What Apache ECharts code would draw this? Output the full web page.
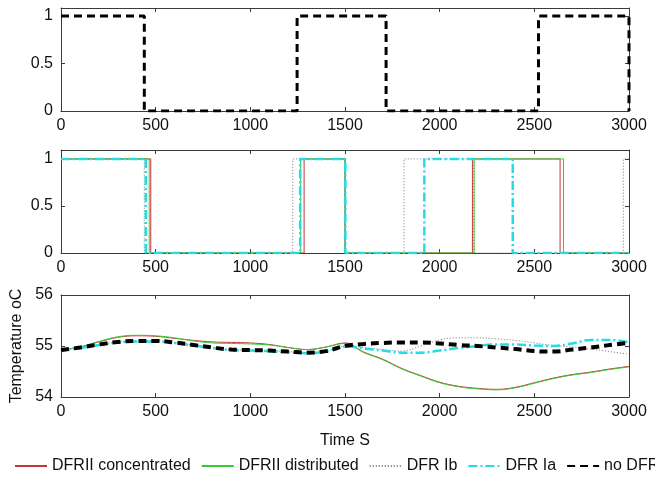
<!DOCTYPE html>
<html>
<head>
<meta charset="utf-8">
<script src="https://cdn.jsdelivr.net/npm/echarts@6/dist/echarts.min.js"></script>
<style>html,body{margin:0;padding:0;background:#fff;}#c{width:655px;height:480px;}</style>
</head>
<body>
<div id="c"></div>
<script>
// ---- Top panel: control signal (no DFR) ----
var topTimes  = [0, 440, 1247, 1717, 2522, 3000];
var topStates = [1, 0, 1, 0, 1, 0];

// ---- Middle panel: switching states ----
var redTimes   = [0, 474, 1284, 1500, 2173, 2636, 3000];
var redStates  = [1, 0, 1, 0, 1, 0, 0];
var greenTimes = [0, 466, 1266, 1500, 2182, 2654, 3000];
var greenStates= [1, 0, 1, 0, 1, 0, 0];
var dotTimes   = [0, 440, 1224, 1500, 1812, 2180, 2970, 3000];
var dotStates  = [1, 0, 1, 0, 1, 0, 1, 1];
var cyanTimes  = [0, 448, 1263, 1502, 1919, 2386, 3000];
var cyanStates = [1, 0, 1, 0, 1, 0, 0];

// ---- Bottom panel: temperature ----
var tTemp = [0,100,200,300,400,500,600,700,800,900,1000,1100,1200,1300,1400,1500,1600,1700,1800,1900,2000,2100,2200,2300,2400,2500,2600,2700,2800,2900,3000];
var tempNoDFR = [54.92,54.97,55.03,55.08,55.10,55.10,55.07,55.02,54.97,54.93,54.92,54.91,54.89,54.87,54.90,55.00,55.04,55.06,55.07,55.07,55.05,55.02,55.00,54.97,54.94,54.90,54.89,54.93,54.97,55.02,55.06];
var tempConc  = [54.92,54.98,55.08,55.17,55.20,55.19,55.15,55.11,55.08,55.07,55.06,55.03,54.97,54.93,54.98,55.06,54.88,54.74,54.56,54.42,54.29,54.21,54.17,54.15,54.19,54.28,54.37,54.44,54.49,54.55,54.60];
var tempDist  = [54.92,54.98,55.09,55.18,55.21,55.20,55.16,55.10,55.06,55.05,55.04,55.02,54.97,54.93,54.98,55.05,54.87,54.73,54.55,54.41,54.28,54.20,54.16,54.14,54.18,54.27,54.36,54.43,54.48,54.54,54.59];
var tempIa    = [54.91,54.96,55.02,55.07,55.09,55.09,55.06,55.01,54.96,54.92,54.91,54.90,54.88,54.86,54.89,54.99,54.95,54.91,54.87,54.87,54.91,54.96,55.00,55.03,55.03,55.01,55.00,55.05,55.12,55.12,55.07];
var tempIb    = [54.92,54.97,55.03,55.08,55.10,55.10,55.07,55.02,54.97,54.93,54.92,54.91,54.89,54.87,54.90,55.00,54.97,54.93,54.90,55.00,55.12,55.16,55.16,55.14,55.11,55.06,55.01,54.98,54.94,54.89,54.84];

var legendNames = ['DFRII concentrated', 'DFRII distributed', 'DFR Ib', 'DFR Ia', 'no DFR'];

function pairs(xs, ys) { return xs.map(function (x, i) { return [x, ys[i]]; }); }

var FONT = "'Liberation Sans', Arial, sans-serif";
var frame = '#3a3a3a';

var grids = [
  {left: 61, right: 26, top: 8, height: 103},
  {left: 61, right: 26, top: 150, height: 103},
  {left: 61, right: 26, top: 295, height: 102}
];

var xAxes = [], yAxes = [];
function addAxes(gi, ymin, ymax, yint, yfmt, extra) {
  [['bottom', true], ['top', false]].forEach(function (p) {
    var ax = {
      type: 'value', gridIndex: gi, position: p[0], min: 0, max: 3000, interval: 500,
      axisLine: {show: true, onZero: false, lineStyle: {color: frame, width: 1}},
      axisTick: {show: true, inside: true, length: 4, lineStyle: {color: frame}},
      splitLine: {show: false},
      axisLabel: {show: p[1], color: '#111', fontSize: 16, fontFamily: FONT, margin: 7,
                  formatter: function (v) { return String(v); }}
    };
    if (p[1] && extra && extra.xname) {
      ax.name = extra.xname; ax.nameLocation = 'middle'; ax.nameGap = 36;
      ax.nameTextStyle = {color: '#111', fontSize: 16, fontFamily: FONT};
    }
    xAxes.push(ax);
  });
  [['left', true], ['right', false]].forEach(function (p) {
    var ay = {
      type: 'value', gridIndex: gi, position: p[0], min: ymin, max: ymax, interval: yint,
      axisLine: {show: true, onZero: false, lineStyle: {color: frame, width: 1}},
      axisTick: {show: true, inside: true, length: 4, lineStyle: {color: frame}},
      splitLine: {show: false},
      axisLabel: {show: p[1], color: '#111', fontSize: 16, fontFamily: FONT, margin: 8, formatter: yfmt}
    };
    if (p[1] && extra && extra.yname) {
      ay.name = extra.yname; ay.nameLocation = 'middle'; ay.nameGap = 36;
      ay.nameTextStyle = {color: '#111', fontSize: 16, fontFamily: FONT};
    }
    yAxes.push(ay);
  });
}
var binFmt = function (v) { return (v === 0 || v === 0.5 || v === 1) ? String(v) : ''; };
addAxes(0, 0, 1.085, 0.5, binFmt);
addAxes(1, 0, 1.095, 0.5, binFmt);
addAxes(2, 54, 56, 1, function (v) { return String(v); }, {xname: 'Time S', yname: 'Temperature oC'});

var styles = {
  'DFRII concentrated': {color: '#cc3333', width: 1, type: 'solid'},
  'DFRII distributed': {color: '#33cc33', width: 1, type: 'solid'},
  'DFR Ib': {color: '#777777', width: 1, type: [1, 2]},
  'DFR Ia': {color: '#22dde6', width: 2.5, type: [9, 3, 2, 3]},
  'no DFR': {color: '#000000', width: 3.5, type: [8, 5]}
};

function lineSeries(name, gi, data, step, smooth) {
  var s = styles[name];
  var o = {
    name: name, type: 'line', xAxisIndex: gi * 2, yAxisIndex: gi * 2,
    data: data, symbol: 'none', showSymbol: false, animation: false,
    itemStyle: {color: s.color},
    lineStyle: {color: s.color, width: s.width, type: s.type}
  };
  if (step) o.step = 'end';
  if (smooth) o.smooth = 0.4;
  return o;
}

var series = [];
// top
var topS = lineSeries('no DFR', 0, pairs(topTimes, topStates), true, false);
topS.lineStyle = {color: '#000', width: 3, type: [8, 5]};
series.push(topS);
// middle
series.push(lineSeries('DFRII concentrated', 1, pairs(redTimes, redStates), true));
series.push(lineSeries('DFRII distributed', 1, pairs(greenTimes, greenStates), true));
series.push(lineSeries('DFR Ib', 1, pairs(dotTimes, dotStates), true));
series.push(lineSeries('DFR Ia', 1, pairs(cyanTimes, cyanStates), true));
// bottom
series.push(lineSeries('DFRII concentrated', 2, pairs(tTemp, tempConc), false, true));
series.push(lineSeries('DFRII distributed', 2, pairs(tTemp, tempDist), false, true));
series.push(lineSeries('DFR Ib', 2, pairs(tTemp, tempIb), false, true));
series.push(lineSeries('DFR Ia', 2, pairs(tTemp, tempIa), false, true));
var nd = lineSeries('no DFR', 2, pairs(tTemp, tempNoDFR), false, true);
nd.lineStyle.width = 4;
series.push(nd);

var chart = echarts.init(document.getElementById('c'), null, {renderer: 'canvas'});
chart.setOption({
  backgroundColor: '#ffffff',
  animation: false,
  grid: grids,
  xAxis: xAxes,
  yAxis: yAxes,
  legend: {
    data: legendNames, left: 14, top: 458, width: 1200, orient: 'horizontal',
    itemWidth: 32, itemHeight: 10, itemGap: 10, padding: 0,
    itemStyle: {opacity: 0},
    textStyle: {color: '#111', fontSize: 16, fontFamily: FONT}
  },
  series: series
});
</script>
</body>
</html>
